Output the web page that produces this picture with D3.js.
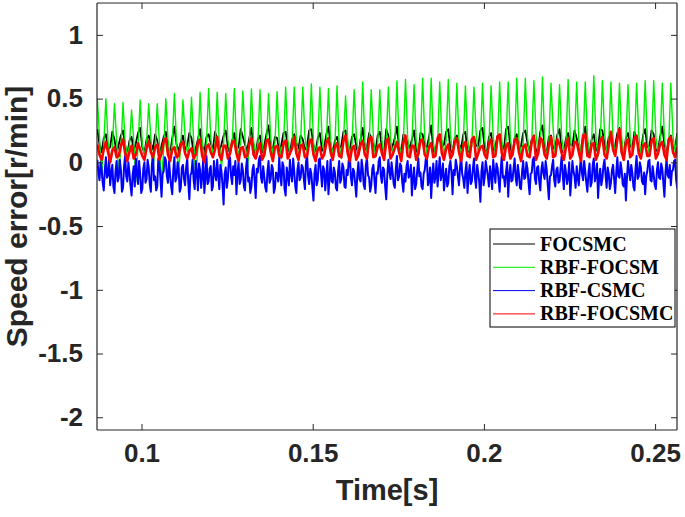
<!DOCTYPE html>
<html><head><meta charset="utf-8">
<script src="https://cdn.jsdelivr.net/npm/d3@7"></script>
<style>body{margin:0;background:#fff}</style>
</head><body>
<svg id="c" width="685" height="517"></svg>
<script>
// ---- data ----
const t0 = 0.0871;        // first sample time [s]
const dt = 0.000625;      // sample step [s] (FOCSMC, RBF-FOCSM, RBF-FOCSMC)
const dtBlue = 0.0003125; // sample step [s] (RBF-CSMC)
const xTicks = [0.1, 0.15, 0.2, 0.25];
const xTickLabels = ["0.1", "0.15", "0.2", "0.25"];
const yTicks = [1, 0.5, 0, -0.5, -1, -1.5, -2];
const yTickLabels = ["1", "0.5", "0", "-0.5", "-1", "-1.5", "-2"];
const seriesNames = ["FOCSMC", "RBF-FOCSM", "RBF-CSMC", "RBF-FOCSMC"];
const seriesColors = ["#000000", "#00ee00", "#0000ff", "#ff0000"];

const focsmc = [
0.26,0.14,0.08,0.19, 0.22,0.10,0.12,0.24, 0.18,0.07,0.14,0.21, 0.25,0.13,0.06,0.17,
0.20,0.09,0.15,0.23, 0.27,0.12,0.07,0.18, 0.21,0.15,0.10,0.22, 0.17,0.08,0.13,0.20,
0.24,0.11,0.06,0.19, 0.28,0.14,0.09,0.16, 0.21,0.10,0.13,0.23, 0.19,0.07,0.11,0.18,
0.26,0.13,0.08,0.20, 0.22,0.15,0.10,0.24, 0.18,0.09,0.14,0.21, 0.25,0.12,0.07,0.17,
0.23,0.10,0.12,0.26, 0.20,0.14,0.09,0.19, 0.27,0.11,0.06,0.18, 0.21,0.08,0.13,0.22,
0.29,0.13,0.10,0.20, 0.19,0.09,0.14,0.23, 0.24,0.12,0.07,0.18, 0.22,0.15,0.11,0.21,
0.18,0.10,0.13,0.25, 0.26,0.13,0.08,0.19, 0.23,0.09,0.12,0.22, 0.28,0.14,0.07,0.17,
0.20,0.11,0.13,0.24, 0.25,0.08,0.10,0.20, 0.22,0.13,0.06,0.18, 0.27,0.10,0.12,0.23,
0.19,0.14,0.09,0.21, 0.24,0.11,0.07,0.26, 0.21,0.09,0.13,0.19, 0.28,0.12,0.08,0.22,
0.20,0.15,0.11,0.18, 0.25,0.10,0.06,0.23, 0.22,0.13,0.12,0.20, 0.29,0.09,0.08,0.17,
0.19,0.12,0.14,0.24, 0.26,0.10,0.07,0.19, 0.21,0.14,0.11,0.22, 0.24,0.08,0.09,0.18,
0.20,0.13,0.13,0.25, 0.27,0.11,0.07,0.20, 0.23,0.09,0.12,0.21, 0.18,0.14,0.10,0.26,
0.28,0.12,0.06,0.19, 0.22,0.10,0.13,0.23, 0.25,0.15,0.09,0.18, 0.20,0.08,0.11,0.24,
0.29,0.13,0.07,0.20, 0.21,0.11,0.12,0.22, 0.26,0.09,0.08,0.19, 0.23,0.14,0.13,0.25,
0.19,0.10,0.10,0.21, 0.28,0.12,0.06,0.18, 0.22,0.09,0.12,0.26, 0.25,0.14,0.09,0.20,
0.20,0.11,0.13,0.23, 0.27,0.08,0.07,0.19, 0.23,0.13,0.11,0.24, 0.19,0.10,0.08,0.21,
0.26,0.12,0.13,0.25, 0.22,0.09,0.10,0.20, 0.28,0.14,0.07,0.18, 0.21,0.11,0.12,0.23
];

const rbfFocsm = [
0.50,0.20,-0.12,0.14, 0.50,0.16,0.02,0.12, 0.46,0.18,-0.08,0.10, 0.47,0.15,0.05,0.13,
0.41,0.17,-0.15,0.11, 0.49,0.14,0.06,0.15, 0.46,0.19,-0.05,0.12, 0.46,0.16,-0.16,0.10,
0.50,0.18,0.04,0.14, 0.54,0.15,-0.06,0.12, 0.49,0.20,0.08,0.13, 0.51,0.17,-0.12,0.11,
0.55,0.16,0.03,0.15, 0.58,0.19,0.06,0.12, 0.55,0.15,-0.04,0.14, 0.54,0.18,0.07,0.13,
0.58,0.16,0.05,0.16, 0.56,0.20,-0.08,0.12, 0.575,0.17,0.06,0.14, 0.57,0.15,0.04,0.13,
0.54,0.19,0.07,0.15, 0.555,0.16,0.03,0.12, 0.59,0.18,0.06,0.14, 0.59,0.17,0.05,0.16,
0.59,0.20,0.08,0.13, 0.615,0.16,0.04,0.15, 0.59,0.19,0.06,0.14, 0.58,0.17,0.07,0.12,
0.60,0.15,0.03,0.16, 0.52,0.18,0.06,0.14, 0.57,0.21,0.05,0.13, 0.63,0.16,0.08,0.15,
0.57,0.19,0.04,0.14, 0.57,0.17,0.06,0.16, 0.59,0.18,0.07,0.13, 0.64,0.16,0.05,0.15,
0.65,0.20,0.06,0.14, 0.61,0.17,0.04,0.16, 0.66,0.19,0.07,0.13, 0.66,0.16,0.05,0.15,
0.63,0.18,0.06,0.17, 0.65,0.21,0.08,0.14, 0.62,0.17,0.05,0.15, 0.60,0.19,0.06,0.13,
0.59,0.24,0.07,0.16, 0.62,0.18,0.05,0.14, 0.60,0.20,0.06,0.15, 0.63,0.17,0.04,0.17,
0.63,0.19,0.07,0.14, 0.66,0.18,0.05,0.15, 0.66,0.20,0.06,0.16, 0.64,0.22,0.07,0.14,
0.67,0.18,0.05,0.15, 0.62,0.26,0.06,0.17, 0.61,0.19,0.08,0.14, 0.65,0.20,0.05,0.16,
0.63,0.18,0.07,0.15, 0.63,0.21,0.06,0.17, 0.68,0.19,0.05,0.14, 0.64,0.24,0.07,0.16,
0.63,0.18,0.06,0.15, 0.62,0.20,0.05,0.17, 0.61,0.19,0.07,0.14, 0.62,0.22,0.06,0.16,
0.64,0.18,0.05,0.15, 0.64,0.20,0.07,0.17, 0.62,0.19,0.06,0.14, 0.62,0.21,0.08,0.22
];

const rbfCsmc = [
0.02,-0.08,-0.14,0.00,-0.05,-0.16,-0.22,-0.06,0.04,-0.12,-0.10,0.03,-0.18,-0.09,-0.02,-0.19,
-0.24,-0.07,0.01,-0.15,-0.12,0.02,-0.06,-0.23,-0.20,-0.03,0.05,-0.11,-0.15,0.00,-0.08,-0.18,
-0.26,-0.10,-0.03,-0.19,0.03,-0.08,-0.17,0.01,-0.09,-0.24,-0.21,-0.05,0.00,-0.16,-0.13,0.02,
-0.04,-0.17,-0.23,-0.02,0.06,-0.14,-0.11,-0.22,-0.19,0.03,-0.01,-0.13,-0.27,-0.09,-0.07,0.04,
0.02,-0.11,-0.16,0.01,-0.10,-0.19,-0.25,-0.06,0.04,-0.15,-0.12,0.00,-0.05,-0.23,-0.20,-0.04,
-0.02,-0.13,-0.18,-0.04,0.03,-0.16,-0.29,-0.10,-0.08,0.02,-0.14,-0.21,0.01,-0.07,-0.22,-0.01,
-0.06,-0.20,-0.11,0.03,-0.24,-0.12,0.05,-0.17,-0.15,-0.05,-0.03,-0.22,-0.19,0.01,-0.09,-0.14,
0.02,-0.10,-0.21,-0.02,-0.07,-0.18,-0.33,-0.09,-0.04,-0.20,-0.13,0.03,0.04,-0.11,-0.17,-0.03,
-0.10,0.01,-0.25,-0.08,0.00,-0.17,-0.14,-0.01,-0.06,-0.19,-0.22,-0.04,0.03,-0.15,-0.12,-0.24,
-0.19,-0.06,-0.02,-0.14,-0.28,-0.05,-0.08,0.02,0.05,-0.12,-0.16,-0.03,-0.11,-0.20,-0.23,-0.07,
0.01,-0.16,-0.13,-0.02,-0.05,-0.24,-0.20,-0.08,-0.09,-0.15,0.04,-0.10,-0.18,0.00,-0.03,-0.21,
-0.26,-0.04,-0.10,-0.18,0.02,-0.09,-0.15,0.03,-0.07,-0.19,-0.24,-0.06,0.00,-0.14,-0.12,-0.02,
-0.04,-0.13,-0.21,0.00,0.06,-0.11,-0.17,-0.05,-0.09,-0.20,-0.30,-0.08,-0.02,-0.18,-0.14,0.02,
0.03,-0.09,-0.19,-0.03,-0.06,-0.22,-0.11,0.01,-0.25,-0.12,0.02,-0.15,-0.16,-0.04,-0.08,-0.20,
-0.22,-0.07,0.01,-0.16,-0.13,-0.01,-0.04,-0.19,-0.20,-0.06,-0.10,0.02,0.05,-0.12,-0.18,-0.05,
-0.07,-0.17,-0.27,-0.09,0.00,-0.13,-0.15,0.02,-0.05,-0.18,-0.21,-0.02,0.03,-0.10,-0.12,-0.23,
-0.18,-0.05,-0.02,-0.14,-0.24,-0.08,-0.09,0.01,0.04,-0.11,-0.16,-0.04,-0.06,-0.19,-0.29,-0.10,
0.02,-0.07,-0.13,0.00,-0.08,-0.17,-0.20,-0.05,0.05,-0.14,-0.11,-0.01,-0.03,-0.16,-0.23,-0.09,
-0.15,-0.03,0.01,-0.12,-0.10,-0.02,-0.26,-0.13,-0.04,-0.21,-0.17,-0.06,0.03,-0.11,-0.08,-0.19,
-0.21,-0.09,-0.06,0.03,0.02,-0.18,-0.14,-0.04,-0.28,-0.11,-0.01,-0.16,-0.12,0.01,-0.19,-0.07,
0.04,-0.14,-0.09,-0.01,-0.22,-0.12,-0.05,-0.19,-0.16,-0.03,0.01,-0.08,-0.25,-0.06,-0.10,0.02,
-0.03,-0.11,-0.18,-0.04,0.06,-0.09,-0.13,-0.20,-0.07,0.00,-0.24,-0.10,-0.02,-0.17,-0.15,-0.05,
0.03,-0.13,-0.20,-0.02,-0.08,-0.16,-0.31,-0.07,0.00,-0.18,-0.12,0.01,-0.05,-0.11,-0.19,-0.03,
-0.10,-0.21,0.02,-0.08,-0.16,-0.01,-0.04,-0.14,-0.23,-0.06,0.05,-0.12,-0.11,-0.19,-0.07,0.00,
-0.27,-0.10,-0.02,-0.15,-0.14,-0.05,0.03,-0.12,-0.18,-0.02,-0.09,-0.20,-0.21,-0.07,0.01,-0.13,
-0.12,0.00,-0.05,-0.16,-0.25,-0.09,-0.08,0.02,0.04,-0.13,-0.17,-0.04,-0.03,-0.15,-0.22,-0.06,
0.00,-0.09,-0.13,0.01,-0.06,-0.18,-0.29,-0.11,-0.10,-0.03,0.02,-0.14,-0.19,-0.06,-0.04,-0.16,
-0.15,-0.04,0.05,-0.10,-0.21,-0.02,-0.08,-0.17,-0.12,0.00,-0.26,-0.13,0.01,-0.07,-0.11,-0.20,
-0.03,-0.12,-0.18,-0.05,0.04,-0.09,-0.14,0.01,-0.07,-0.16,-0.23,-0.08,-0.01,-0.19,-0.16,-0.02,
0.03,-0.15,-0.10,-0.01,-0.28,-0.12,-0.05,-0.18,-0.13,-0.03,0.02,-0.10,-0.20,-0.04,-0.09,-0.21,
-0.16,-0.06,-0.02,-0.13,-0.24,-0.08,0.04,-0.11,-0.12,0.00,-0.06,-0.17,-0.19,-0.09,-0.30,-0.12,
0.01,-0.07,-0.14,-0.02,-0.08,-0.19,-0.22,-0.05,0.05,-0.13,-0.11,0.00,-0.04,-0.15,-0.17,-0.08,
-0.25,-0.11,-0.07,0.01,0.02,-0.14,-0.15,-0.03,-0.10,-0.18,-0.21,-0.06,0.00,-0.12,-0.13,-0.01,
-0.05,-0.16,-0.27,-0.08,0.03,-0.10,-0.12,-0.02,-0.18,-0.07,-0.06,0.01,0.02,-0.14,-0.20,-0.09
];

const rbfFocsmc = [
0.14,0.06,0.02,0.10, 0.16,0.08,0.00,0.09, 0.12,0.04,0.05,0.13, 0.18,0.07,0.01,0.08,
0.13,0.03,0.06,0.15, 0.10,0.05,0.02,0.11, 0.17,0.08,0.04,0.12, 0.14,0.02,0.07,0.16,
0.19,0.06,0.01,0.10, 0.12,0.04,0.05,0.14, 0.16,0.07,0.03,0.09, 0.11,0.03,0.06,0.15,
0.18,0.05,0.00,0.12, 0.14,0.08,0.04,0.10, 0.20,0.06,0.02,0.13, 0.13,0.03,0.07,0.16,
0.17,0.07,0.01,0.11, 0.12,0.04,0.05,0.14, 0.19,0.06,0.03,0.10, 0.15,0.02,0.06,0.17,
0.18,0.08,0.01,0.12, 0.13,0.05,0.04,0.15, 0.17,0.03,0.07,0.11, 0.20,0.07,0.02,0.13,
0.14,0.04,0.05,0.16, 0.18,0.06,0.01,0.10, 0.12,0.03,0.06,0.15, 0.19,0.08,0.02,0.12,
0.15,0.05,0.04,0.17, 0.21,0.07,0.01,0.11, 0.13,0.02,0.06,0.14, 0.17,0.06,0.03,0.18,
0.20,0.04,0.05,0.12, 0.14,0.07,0.02,0.16, 0.19,0.03,0.06,0.11, 0.16,0.08,0.01,0.15,
0.21,0.05,0.04,0.13, 0.13,0.02,0.07,0.17, 0.18,0.06,0.03,0.12, 0.15,0.04,0.05,0.19,
0.22,0.07,0.02,0.11, 0.14,0.03,0.06,0.16, 0.19,0.08,0.01,0.13, 0.16,0.05,0.04,0.18,
0.20,0.02,0.07,0.12, 0.13,0.06,0.03,0.15, 0.18,0.04,0.05,0.20, 0.22,0.07,0.02,0.13,
0.15,0.03,0.06,0.17, 0.19,0.08,0.01,0.12, 0.14,0.05,0.04,0.16, 0.21,0.02,0.07,0.19,
0.17,0.06,0.03,0.13, 0.20,0.04,0.05,0.18, 0.14,0.07,0.02,0.12, 0.19,0.03,0.06,0.16,
0.16,0.08,0.01,0.21, 0.22,0.05,0.04,0.14, 0.15,0.02,0.07,0.17, 0.20,0.06,0.03,0.13,
0.24,0.10,0.05,0.18, 0.26,0.08,0.02,0.15, 0.18,0.04,0.06,0.19, 0.21,0.07,0.03,0.13,
0.15,0.05,0.05,0.17, 0.19,0.03,0.07,0.14, 0.16,0.06,0.02,0.18, 0.20,0.08,0.04,0.12
];

const seriesData = [focsmc, rbfFocsm, rbfCsmc, rbfFocsmc];
const seriesStep = [dt, dt, dtBlue, dt];

// ---- chart ----
const svg = d3.select("#c");
const L = 97, R = 677, T = 3, B = 430;
const x = d3.scaleLinear().domain([0.087, 0.2564]).range([L, R]);
const y = d3.scaleLinear().domain([-2.1, 1.25]).range([B, T]);

svg.append("defs").append("clipPath").attr("id", "clip")
  .append("rect").attr("x", L).attr("y", T).attr("width", R - L).attr("height", B - T);

const plot = svg.append("g").attr("clip-path", "url(#clip)");
const widths = [1.8, 1.4, 2.0, 2.6];
seriesData.forEach((s, k) => {
  const line = d3.line().x((d, i) => x(t0 + i * seriesStep[k])).y(d => y(d));
  plot.append("path").datum(s).attr("d", line)
    .attr("fill", "none").attr("stroke", seriesColors[k])
    .attr("stroke-width", widths[k]).attr("stroke-linejoin", "round");
});

const axCol = "#262626";
const tickFont = "bold 26px 'Liberation Sans', Arial, sans-serif";
const xb = d3.axisBottom(x).tickValues(xTicks).tickSize(-6).tickFormat((d, i) => xTickLabels[i]).tickPadding(14);
const xt = d3.axisTop(x).tickValues(xTicks).tickSize(-6).tickFormat("");
const yl = d3.axisLeft(y).tickValues(yTicks).tickSize(-6).tickFormat((d, i) => yTickLabels[i]).tickPadding(14);
const yr = d3.axisRight(y).tickValues(yTicks).tickSize(-6).tickFormat("");
function styleAx(g) {
  g.selectAll("path").attr("stroke", axCol).attr("stroke-width", 1.2);
  g.selectAll("line").attr("stroke", axCol).attr("stroke-width", 1);
  g.selectAll("text").attr("fill", "#262626").style("font", tickFont);
}
svg.append("g").attr("transform", `translate(0,${B})`).call(xb).call(styleAx)
  .selectAll("path.domain").attr("d", `M${L},0H${R}`);
svg.append("g").attr("transform", `translate(0,${T})`).call(xt).call(styleAx)
  .selectAll("path.domain").attr("d", `M${L},0H${R}`);
svg.append("g").attr("transform", `translate(${L},0)`).call(yl).call(styleAx)
  .selectAll("path.domain").attr("d", `M0,${T}V${B}`);
svg.append("g").attr("transform", `translate(${R},0)`).call(yr).call(styleAx)
  .selectAll("path.domain").attr("d", `M0,${T}V${B}`);

svg.append("text").attr("x", (L + R) / 2).attr("y", 500).attr("text-anchor", "middle")
  .style("font", "bold 29px 'Liberation Sans', Arial, sans-serif").attr("fill", "#262626").text("Time[s]");
svg.append("text").attr("transform", `translate(27,${(T + B) / 2}) rotate(-90)`).attr("text-anchor", "middle")
  .style("font", "bold 30px 'Liberation Sans', Arial, sans-serif").attr("fill", "#262626").text("Speed error[r/min]");

const lg = svg.append("g");
lg.append("rect").attr("x", 490).attr("y", 229).attr("width", 185).attr("height", 98)
  .attr("fill", "#fff").attr("stroke", "#000").attr("stroke-width", 1);
seriesNames.forEach((n, k) => {
  const yy = 244 + k * 23.3;
  lg.append("line").attr("x1", 493).attr("x2", 535).attr("y1", yy).attr("y2", yy)
    .attr("stroke", seriesColors[k]).attr("stroke-width", 1);
  lg.append("text").attr("x", 540).attr("y", yy + 6.5)
    .style("font", "bold 20px 'Liberation Serif', 'Times New Roman', serif").attr("fill", "#000").text(n);
});
</script>
</body></html>
